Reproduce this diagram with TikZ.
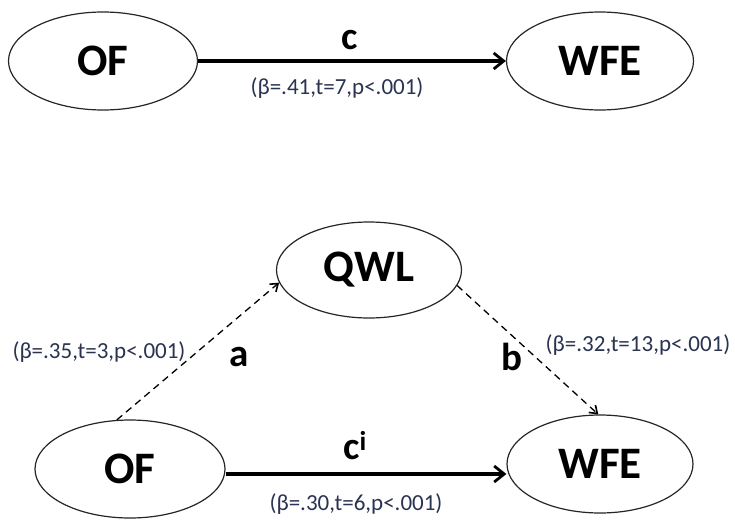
\documentclass[tikz,border=0pt]{standalone}
\usepackage{fontspec}
\setmainfont{Carlito}
\usetikzlibrary{arrows.meta,shapes.geometric}
\definecolor{statcol}{HTML}{2A3350}
\begin{document}
\begin{tikzpicture}[x=1pt,y=-1pt,
  var/.style={draw=black!85,line width=1.2pt,ellipse,inner sep=0pt,font=\fontsize{45}{48}\selectfont\bfseries},
  stat/.style={font=\fontsize{23}{25}\selectfont,text=statcol,inner sep=0pt},
  plabel/.style={font=\fontsize{39}{42}\selectfont\bfseries,inner sep=0pt},
  direct/.style={line width=3.4pt,-{Straight Barb[length=10pt,width=16pt,line width=2.8pt]}},
  indirect/.style={dashed,dash pattern=on 7pt off 5pt,line width=1.3pt,-{Straight Barb[length=7pt,width=10pt,line width=1.6pt]}}]
\useasboundingbox (0,0) rectangle (735,522);
\fill[white] (0,0) rectangle (735,522);

% total effect model
\node[var,minimum width=189pt,minimum height=98pt] (of1) at (103,61) {OF};
\node[var,minimum width=187pt,minimum height=98pt] (wfe1) at (600,61) {WFE};
\draw[direct] (of1.east) -- (wfe1.west);
\node[plabel] (c) at (350,40) {c};
\node[stat] (s1) at (337,88) {(β=.41,t=7,p<.001)};

% mediation model
\node[var,minimum width=185pt,minimum height=96pt] (qwl) at (369,270) {QWL};
\node[var,minimum width=190pt,minimum height=98pt] (of2) at (130,469) {OF};
\node[var,minimum width=186pt,minimum height=98pt] (wfe2) at (600,464) {WFE};
\draw[direct] (of2.east |- 0,474) coordinate (ds) -- (wfe2.west |- 0,474);
\draw[indirect] (of2.105) -- (qwl.188);
\draw[indirect] (qwl.-10) -- (wfe2.92);
\node[plabel] (a) at (239,357) {a};
\node[plabel] (b) at (512,357) {b};
\node[plabel] (ci) at (355,446) {c\textsuperscript{i}};
\node[stat] (sa) at (99,352) {(β=.35,t=3,p<.001)};
\node[stat] (sb) at (638,345) {(β=.32,t=13,p<.001)};
\node[stat] (sc) at (356,504) {(β=.30,t=6,p<.001)};
\end{tikzpicture}
\end{document}
